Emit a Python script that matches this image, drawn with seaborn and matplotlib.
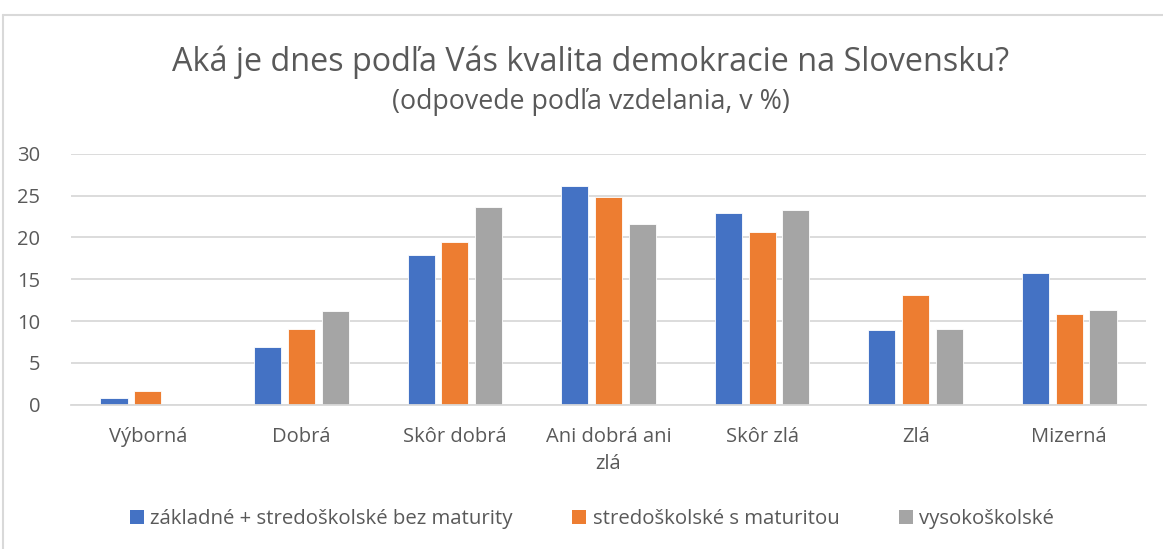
import pandas as pd
import matplotlib.pyplot as plt
import seaborn as sns
from matplotlib.lines import Line2D
from matplotlib.patches import Patch

# =============================================
# Data
categories = ['Výborná', 'Dobrá', 'Skôr dobrá', 'Ani dobrá ani\nzlá', 'Skôr zlá', 'Zlá', 'Mizerná']
series_names = ['základné + stredoškolské bez maturity', 'stredoškolské s maturitou', 'vysokoškolské']
zakladne = [0.8, 6.9, 17.9, 26.1, 22.9, 8.9, 15.8]
maturita = [1.6, 9.1, 19.4, 24.8, 20.7, 13.1, 10.9]
vysoke = [0.0, 11.2, 23.6, 21.6, 23.3, 9.1, 11.3]
yticks = [0, 5, 10, 15, 20, 25, 30]

colors = ['#4472C4', '#ED7D31', '#A5A5A5']
textColor = '#595959'
gridColor = '#D9D9D9'

df = pd.DataFrame({
    'kategoria': categories * 3,
    'vzdelanie': [series_names[0]] * 7 + [series_names[1]] * 7 + [series_names[2]] * 7,
    'podiel': zakladne + maturita + vysoke,
})

sns.set_theme(style="white")
plt.rcParams['font.family'] = ['Open Sans', 'DejaVu Sans']

fig = plt.figure(figsize=(11.63, 5.49), dpi=100)
ax = fig.add_axes([71 / 1163, 1 - 404.7 / 549, (1146 - 71) / 1163, (404.7 - 153.7) / 549])

sns.barplot(data=df, x='kategoria', y='podiel', hue='vzdelanie', order=categories,
            hue_order=series_names, palette=colors, width=0.66, gap=0.2,
            edgecolor='white', linewidth=0.6, saturation=1, legend=False, ax=ax)

ax.set_ylim(0, 30)
ax.set_yticks(yticks)
ax.set_xlim(-0.5, len(categories) - 0.5)
ax.set_xlabel('')
ax.set_ylabel('')
ax.yaxis.grid(True, color=gridColor, linewidth=1.3)
ax.set_axisbelow(True)
for s in ['top', 'right', 'left']:
    ax.spines[s].set_visible(False)
ax.spines['bottom'].set_color(gridColor)
ax.spines['bottom'].set_linewidth(1.3)
ax.tick_params(axis='both', length=0, labelsize=14.5, labelcolor=textColor)
ax.tick_params(axis='y', pad=22)
ax.tick_params(axis='x', pad=16)
for lbl in ax.get_xticklabels():
    lbl.set_linespacing(1.45)

# titles
fig.text(0.5075, 1 - 62 / 549, 'Aká je dnes podľa Vás kvalita demokracie na Slovensku?',
         ha='center', va='center', fontsize=23.3, color=textColor)
fig.text(0.5085, 1 - 102 / 549, '(odpovede podľa vzdelania, v %)',
         ha='center', va='center', fontsize=19.3, color=textColor)

# legend
handles = [Patch(facecolor=c, edgecolor='none') for c in colors]
fig.legend(handles, series_names, loc='center', bbox_to_anchor=(0.509, 1 - 519 / 549), ncol=3,
           frameon=False, fontsize=14.7, handlelength=0.7, handleheight=0.7, handletextpad=0.3,
           columnspacing=2.9, labelcolor=textColor)

# chart frame
fig.add_artist(Line2D([3 / 1163, 3 / 1163], [0, 1 - 15 / 549], color=gridColor, lw=1.5))
fig.add_artist(Line2D([3 / 1163, 1], [1 - 15 / 549, 1 - 15 / 549], color=gridColor, lw=1.5))

plt.savefig('out.png', dpi=100)
